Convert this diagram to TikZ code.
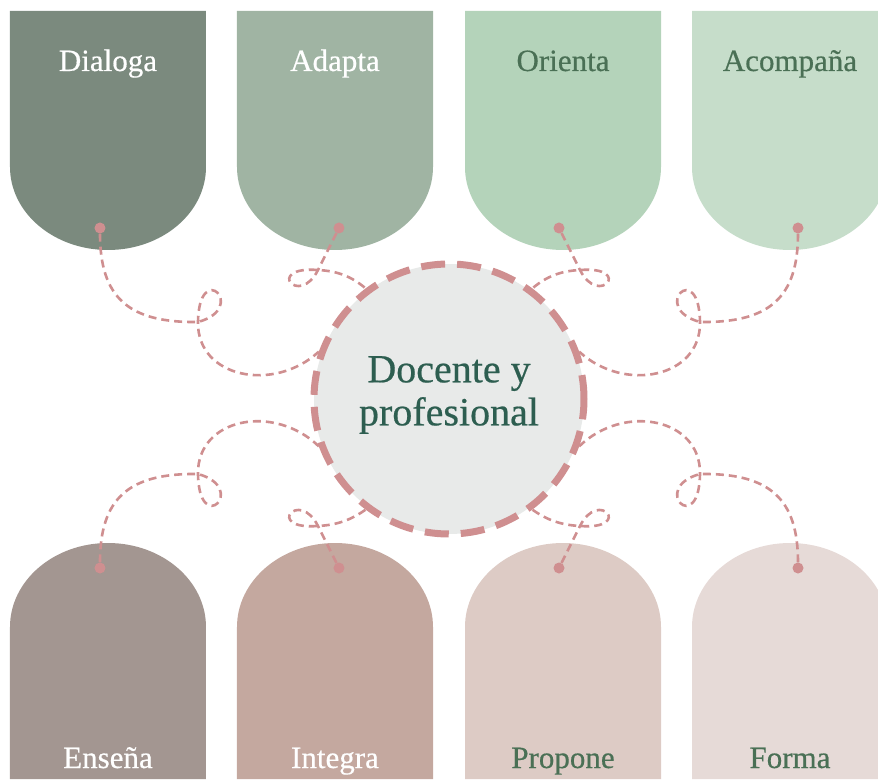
\documentclass[tikz,border=0pt]{standalone}
\usepackage{fontspec}
\setmainfont{Liberation Serif}
\newfontfamily\lblfont[FakeBold=0.5]{Liberation Serif}

\definecolor{dialogac}{HTML}{7B8A7E}
\definecolor{adaptac}{HTML}{A0B4A3}
\definecolor{orientac}{HTML}{B4D3BA}
\definecolor{acompanac}{HTML}{C6DDCA}
\definecolor{ensenac}{HTML}{A39691}
\definecolor{integrac}{HTML}{C4A89F}
\definecolor{proponec}{HTML}{DDCBC5}
\definecolor{formac}{HTML}{E6DAD7}
\definecolor{rosa}{HTML}{CF8F90}
\definecolor{gris}{HTML}{E8EAE9}
\definecolor{verde}{HTML}{2D5E50}
\definecolor{verdeclaro}{HTML}{4A7055}

\tikzset{
  link/.style={draw=rosa, line width=2.6pt, dash pattern=on 8pt off 5pt},
  dot/.style={circle, fill=rosa, inner sep=0pt, minimum size=11pt},
  lbl/.style={anchor=base, font=\lblfont\fontsize{31}{36}\selectfont},
  hub/.style={circle, fill=gris, draw=rosa, line width=7pt,
    dash pattern=on 24pt off 12pt, minimum size=270pt},
  hubtext/.style={align=center, text=verde,
    font=\lblfont\fontsize{40}{43}\selectfont},
}

\begin{document}
\begin{tikzpicture}[x=1pt,y=1pt]
    \useasboundingbox (-449,-381) rectangle (429,398);
    \clip (-449,-381) rectangle (429,398);

    % top row
    \fill[dialogac] (-439,387) -- (-439,231) arc[start angle=180, end angle=360, x radius=98, y radius=83] -- (-243,387) -- cycle;
    \fill[adaptac] (-212,387) -- (-212,231) arc[start angle=180, end angle=360, x radius=98, y radius=83] -- (-16,387) -- cycle;
    \fill[orientac] (16,387) -- (16,231) arc[start angle=180, end angle=360, x radius=98, y radius=83] -- (212,387) -- cycle;
    \fill[acompanac] (243,387) -- (243,231) arc[start angle=180, end angle=360, x radius=98, y radius=83] -- (439,387) -- cycle;

    \node[lbl, text=white] (dialoga) at (-341,327) {Dialoga};
    \node[lbl, text=white] (adapta) at (-114,327) {Adapta};
    \node[lbl, text=verdeclaro] (orienta) at (114,327) {Orienta};
    \node[lbl, text=verdeclaro] (acompana) at (341,327) {Acompaña};

    % bottom row
    \fill[ensenac] (-439,-381) -- (-439,-229) arc[start angle=180, end angle=0, x radius=98, y radius=84] -- (-243,-381) -- cycle;
    \fill[integrac] (-212,-381) -- (-212,-229) arc[start angle=180, end angle=0, x radius=98, y radius=84] -- (-16,-381) -- cycle;
    \fill[proponec] (16,-381) -- (16,-229) arc[start angle=180, end angle=0, x radius=98, y radius=84] -- (212,-381) -- cycle;
    \fill[formac] (243,-381) -- (243,-229) arc[start angle=180, end angle=0, x radius=98, y radius=84] -- (439,-381) -- cycle;

    \node[lbl, text=white] (ensena) at (-341,-370) {Enseña};
    \node[lbl, text=white] (integra) at (-114,-370) {Integra};
    \node[lbl, text=verdeclaro] (propone) at (114,-370) {Propone};
    \node[lbl, text=verdeclaro] (forma) at (341,-370) {Forma};

    % centre and dots
    \node[hub] (hub) at (0,-1) {};
    \node[hubtext] (titulo) at (0,3) {Docente y\\profesional};

    \node[dot] (d1) at (-349,170) {};
    \node[dot] (d2) at (-110,170) {};
    \node[dot] (d3) at (110,170) {};
    \node[dot] (d4) at (349,170) {};
    \node[dot] (d5) at (-349,-170) {};
    \node[dot] (d6) at (-110,-170) {};
    \node[dot] (d7) at (110,-170) {};
    \node[dot] (d8) at (349,-170) {};

    % curly links
    \draw[link] (d1) .. controls (-349,100) and (-320,75) .. (-251,76)
      .. controls (-200,90) and (-250,140) .. (-251,76)
      .. controls (-252,20) and (-175,5) .. (hub.160);
    \draw[link] (d4) .. controls (349,100) and (320,75) .. (251,76)
      .. controls (200,90) and (250,140) .. (251,76)
      .. controls (252,20) and (175,5) .. (hub.20);
    \draw[link] (d5) .. controls (-349,-100) and (-320,-75) .. (-251,-76)
      .. controls (-200,-90) and (-250,-140) .. (-251,-76)
      .. controls (-252,-20) and (-175,-5) .. (hub.200);
    \draw[link] (d8) .. controls (349,-100) and (320,-75) .. (251,-76)
      .. controls (200,-90) and (250,-140) .. (251,-76)
      .. controls (252,-20) and (175,-5) .. (hub.340);

    \draw[link] (d2) -- (-131,128)
      .. controls (-150,90) and (-185,132) .. (-131,128)
      .. controls (-112,127) and (-98,122) .. (hub.127);
    \draw[link] (d3) -- (131,128)
      .. controls (150,90) and (185,132) .. (131,128)
      .. controls (112,127) and (98,122) .. (hub.53);
    \draw[link] (d6) -- (-131,-128)
      .. controls (-150,-90) and (-185,-132) .. (-131,-128)
      .. controls (-112,-127) and (-98,-122) .. (hub.233);
    \draw[link] (d7) -- (131,-128)
      .. controls (150,-90) and (185,-132) .. (131,-128)
      .. controls (112,-127) and (98,-122) .. (hub.307);
\end{tikzpicture}
\end{document}
